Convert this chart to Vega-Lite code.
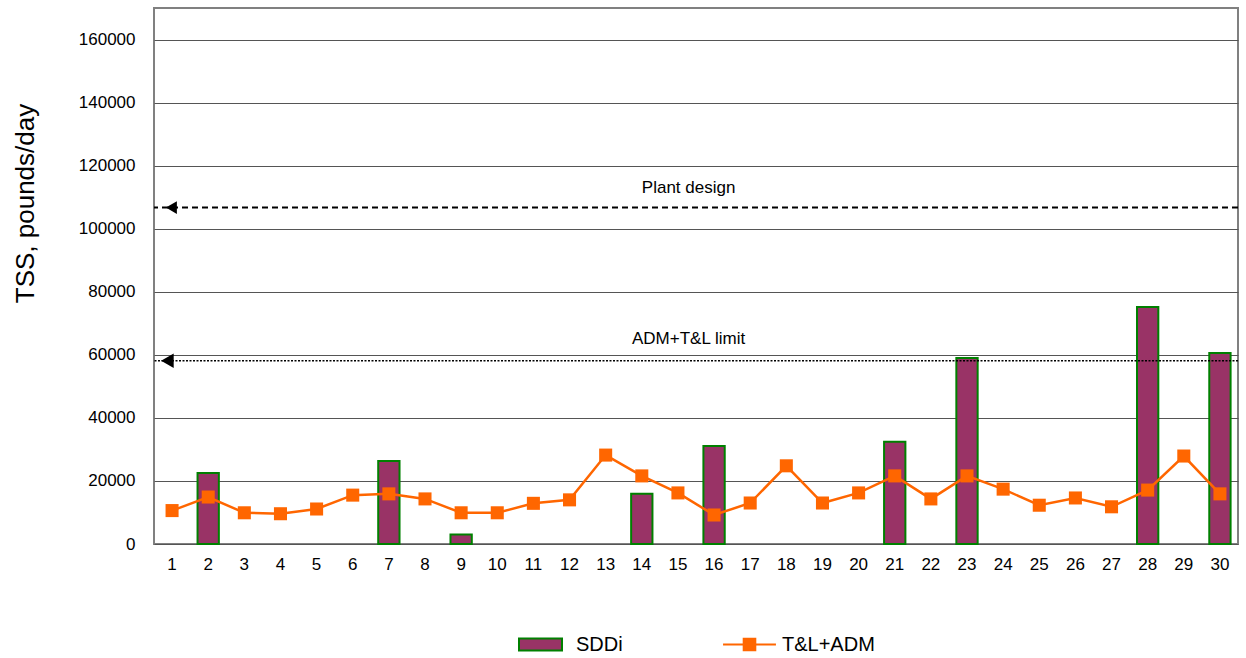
{
  "$schema": "https://vega.github.io/schema/vega-lite/v6.json",
  "width": 1084,
  "height": 536,
  "autosize": "none",
  "padding": {"left": 154, "top": 8, "right": 8, "bottom": 114},
  "background": "white",
  "config": {
    "font": "Liberation Sans",
    "view": {"stroke": "#808080", "strokeWidth": 2},
    "axis": {"labelFont": "Liberation Sans", "titleFont": "Liberation Sans", "labelColor": "black", "titleColor": "black"},
    "legend": {"labelFont": "Liberation Sans", "layout": {"bottom": {"anchor": "middle", "direction": "horizontal", "margin": 104, "center": true}}}
  },
  "data": {
    "values": [
      {"day": 1, "sddi": null, "tl": 10600},
      {"day": 2, "sddi": 22500, "tl": 14900},
      {"day": 3, "sddi": null, "tl": 9900},
      {"day": 4, "sddi": null, "tl": 9600},
      {"day": 5, "sddi": null, "tl": 11100},
      {"day": 6, "sddi": null, "tl": 15500},
      {"day": 7, "sddi": 26350, "tl": 15900},
      {"day": 8, "sddi": null, "tl": 14300},
      {"day": 9, "sddi": 3000, "tl": 9900},
      {"day": 10, "sddi": null, "tl": 9900},
      {"day": 11, "sddi": null, "tl": 12900},
      {"day": 12, "sddi": null, "tl": 14000},
      {"day": 13, "sddi": null, "tl": 28200},
      {"day": 14, "sddi": 15900, "tl": 21600},
      {"day": 15, "sddi": null, "tl": 16200},
      {"day": 16, "sddi": 31100, "tl": 9200},
      {"day": 17, "sddi": null, "tl": 13000},
      {"day": 18, "sddi": null, "tl": 24800},
      {"day": 19, "sddi": null, "tl": 13000},
      {"day": 20, "sddi": null, "tl": 16200},
      {"day": 21, "sddi": 32400, "tl": 21600},
      {"day": 22, "sddi": null, "tl": 14300},
      {"day": 23, "sddi": 59000, "tl": 21600},
      {"day": 24, "sddi": null, "tl": 17400},
      {"day": 25, "sddi": null, "tl": 12300},
      {"day": 26, "sddi": null, "tl": 14600},
      {"day": 27, "sddi": null, "tl": 11800},
      {"day": 28, "sddi": 75200, "tl": 17100},
      {"day": 29, "sddi": null, "tl": 27900},
      {"day": 30, "sddi": 60600, "tl": 15900}
    ]
  },
  "encoding": {
    "x": {
      "field": "day", "type": "ordinal", "title": null,
      "scale": {"paddingInner": 0.41, "paddingOuter": 0.205},
      "axis": {"labelAngle": 0, "labelFontSize": 17, "ticks": false, "labelPadding": 12, "domain": false, "grid": false}
    }
  },
  "layer": [
    {
      "mark": {"type": "bar", "stroke": "#008000", "strokeWidth": 2},
      "encoding": {
        "y": {
          "field": "sddi", "type": "quantitative", "title": "TSS, pounds/day",
          "scale": {"domain": [0, 170000], "nice": false},
          "axis": {"values": [0, 20000, 40000, 60000, 80000, 100000, 120000, 140000, 160000], "format": "d", "labelFontSize": 17, "titleFontSize": 26, "titleFontWeight": "normal", "titleY": 195, "ticks": false, "labelPadding": 19, "titlePadding": 40, "domain": false, "gridColor": "#555555", "gridWidth": 1, "gridOpacity": 1}
        },
        "fill": {
          "datum": "SDDi", "type": "nominal",
          "scale": {"domain": ["SDDi"], "range": ["#993366"]},
          "legend": {"title": null, "orient": "bottom", "offset": 50, "labelFontSize": 20, "symbolType": "M-1,-0.28H1V0.28H-1Z", "symbolSize": 1849, "symbolStrokeColor": "#008000", "symbolStrokeWidth": 2, "labelOffset": 13,
            "encode": {"symbols": {"update": {"stroke": {"value": "#008000"}, "strokeWidth": {"value": 2}, "fill": {"value": "#993366"}, "opacity": {"value": 1}}}}}
        }
      }
    },
    {
      "data": {"values": [{"name": "Plant design", "value": 106700}]},
      "layer": [
        {"mark": {"type": "rule", "color": "black", "strokeWidth": 2, "strokeDash": [6, 4]}, "encoding": {"y": {"field": "value", "type": "quantitative"}, "x": null}},
        {"mark": {"type": "point", "shape": "triangle-left", "filled": true, "color": "black", "size": 160, "opacity": 1, "xOffset": 10}, "encoding": {"y": {"field": "value", "type": "quantitative"}, "x": {"datum": 1, "type": "ordinal", "bandPosition": 0}}},
        {"mark": {"type": "text", "fontSize": 17, "dy": -20, "color": "black"}, "encoding": {"y": {"field": "value", "type": "quantitative"}, "text": {"field": "name"}, "x": {"datum": 15, "type": "ordinal", "bandPosition": 1}}}
      ]
    },
    {
      "data": {"values": [{"name": "ADM+T&L limit", "value": 58100}]},
      "layer": [
        {"mark": {"type": "rule", "color": "black", "strokeWidth": 1.5, "strokeDash": [2, 1.5]}, "encoding": {"y": {"field": "value", "type": "quantitative"}, "x": null}},
        {"mark": {"type": "point", "shape": "triangle-left", "filled": true, "color": "black", "size": 210, "opacity": 1, "xOffset": 6}, "encoding": {"y": {"field": "value", "type": "quantitative"}, "x": {"datum": 1, "type": "ordinal", "bandPosition": 0}}},
        {"mark": {"type": "text", "fontSize": 17, "dy": -22, "color": "black"}, "encoding": {"y": {"field": "value", "type": "quantitative"}, "text": {"field": "name"}, "x": {"datum": 15, "type": "ordinal", "bandPosition": 1}}}
      ]
    },
    {
      "mark": {"type": "line", "strokeWidth": 2.5},
      "encoding": {
        "y": {"field": "tl", "type": "quantitative"},
        "stroke": {
          "datum": "T&L+ADM", "type": "nominal",
          "scale": {"domain": ["T&L+ADM"], "range": ["#FF6600"]},
          "legend": {"title": null, "orient": "bottom", "offset": 50, "labelFontSize": 20, "symbolType": "M-1.23,0H1.23M-0.27,-0.27H0.27V0.27H-0.27Z", "symbolSize": 1849, "symbolStrokeWidth": 2, "labelOffset": 10,
            "encode": {"symbols": {"update": {"fill": {"value": "#FF6600"}, "stroke": {"value": "#FF6600"}, "strokeWidth": {"value": 2}, "opacity": {"value": 1}}}}}
        }
      }
    },
    {
      "mark": {"type": "point", "shape": "square", "filled": true, "color": "#FF6600", "size": 170, "opacity": 1},
      "encoding": {"y": {"field": "tl", "type": "quantitative"}}
    }
  ]
}
